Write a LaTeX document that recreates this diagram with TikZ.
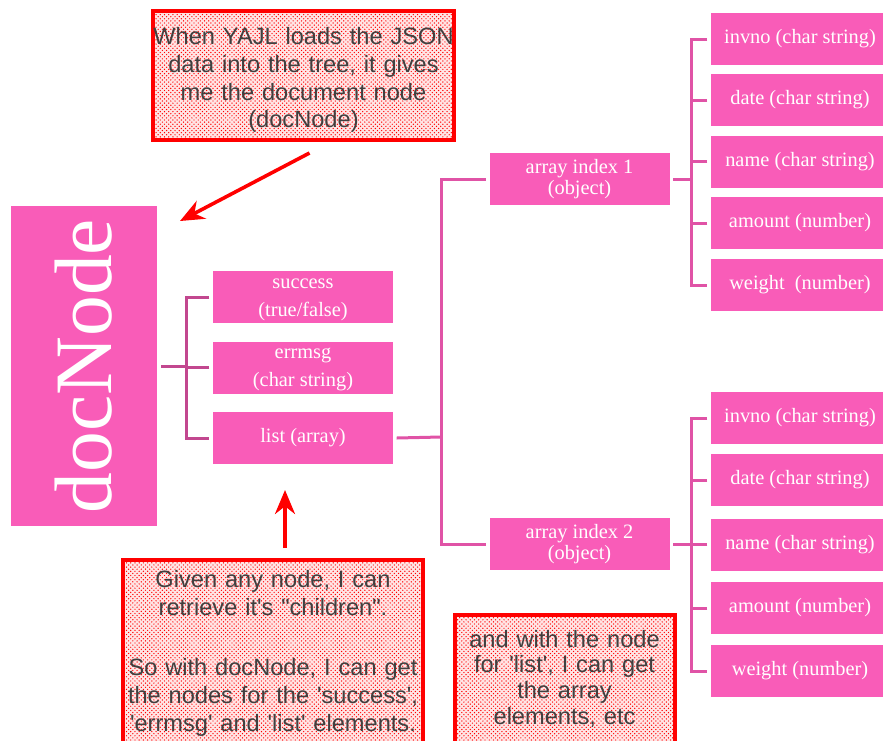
\documentclass[tikz,border=0pt]{standalone}
\usepackage{fontspec}
\setmainfont{Liberation Serif}
\newfontfamily\notafont{Liberation Sans}
\usepackage{graphicx}
\usetikzlibrary{arrows.meta,patterns}

\definecolor{rosa}{HTML}{F95CB8}
\definecolor{ramoscuro}{HTML}{C2478F}
\definecolor{ramochiaro}{HTML}{E053A6}
\definecolor{grigio}{HTML}{404040}

\begin{document}
\begin{tikzpicture}[x=0.25mm, y=-0.25mm, >=Stealth]
% Stili per i nodi dell'albero e per le note
\tikzset{scatola/.style={fill=rosa, text=white, font=\fontsize{14.5}{15}\selectfont, align=center, inner sep=0pt, outer sep=0.9mm, minimum width=45mm, minimum height=13mm}}
\tikzset{foglia/.style={scatola, minimum width=44.5mm}}
\tikzset{nota/.style={draw=red, line width=1mm, preaction={fill=red!10}, pattern=crosshatch dots, pattern color=red, text=grigio, font=\notafont\fontsize{16.8}{19.9}\selectfont, align=center, inner xsep=1mm}}
\tikzset{ramo/.style={line width=0.75mm}}
\tikzset{freccia/.style={-{Stealth[length=6mm,width=5mm]}, red, line width=0.9mm}}

% Area visibile (le note escono dal bordo inferiore)
\useasboundingbox (0,0) rectangle (883,740);
\clip (0,0) rectangle (883,740);

% Punti di giunzione dei rami
\coordinate (J1) at (186,366);
\coordinate (J2) at (441,437);
\coordinate (J3) at (691,179);
\coordinate (J4) at (691,544);

% Punte delle frecce
\coordinate (punta1) at (180,221);
\coordinate (punta2) at (285,490);

% --- NODO DOCUMENTO ---
\node[fill=rosa, text=white, minimum width=36.5mm, minimum height=80mm, inner sep=0pt, outer sep=1mm, font=\fontsize{58}{60}\selectfont] (doc) at (84,366) {\rotatebox{90}{docNode}};

% --- FIGLI DEL DOCUMENTO ---
\node[scatola] (success) at (303,297) {\strut success\\[5pt] (true/false)};
\node[scatola] (errmsg) at (303,367.5) {\strut errmsg\\[5pt] (char string)};
\node[scatola] (list) at (303,438) {list (array)};

\draw[ramo, ramoscuro] (doc.east) -- (J1);
\draw[ramo, ramoscuro] (success.west) -| (J1) |- (list.west);
\draw[ramo, ramoscuro] (errmsg.west) -- (errmsg.west -| J1);

% --- ELEMENTI DELL'ARRAY ---
\node[scatola] (arr1) at (579.5,179) {array index 1\\ (object)};
\node[scatola] (arr2) at (579.5,544) {array index 2\\ (object)};

\draw[ramo, ramochiaro] (list.east) -- (J2);
\draw[ramo, ramochiaro] (arr1.west) -| (J2) |- (arr2.west);

% --- CAMPI DEGLI OGGETTI ---
\foreach \i/\y/\testo in {1/39/{invno (char string)}, 2/100/{date (char string)}, 3/161.5/{name (char string)}, 4/223/{amount (number)}, 5/285/{weight~ (number)}}
    \node[foglia] (uno\i) at (800,\y) {\testo};
\foreach \i/\y/\testo in {1/418/{invno (char string)}, 2/480/{date (char string)}, 3/544.5/{name (char string)}, 4/608/{amount (number)}, 5/671/{weight (number)}}
    \node[foglia] (due\i) at (800,\y) {\testo};

\draw[ramo, ramochiaro] (arr1.east) -- (J3);
\draw[ramo, ramochiaro] (uno1.west) -| (J3) |- (uno5.west);
\draw[ramo, ramochiaro] (arr2.east) -- (J4);
\draw[ramo, ramochiaro] (due1.west) -| (J4) |- (due5.west);
\foreach \i in {2,3,4} {
    \draw[ramo, ramochiaro] (uno\i.west) -- (uno\i.west -| J3);
    \draw[ramo, ramochiaro] (due\i.west) -- (due\i.west -| J4);
}

% --- NOTE ---
\node[nota, inner xsep=0pt, text width=75.25mm, minimum width=75.25mm, minimum height=32.25mm, text depth=20mm] (nota1) at (303.5,75.5)
    {When YAJL loads the JSON\\ data into the tree, it gives\\ me the document node\\ (docNode)};
\node[nota, anchor=north, text width=73mm, minimum width=75mm, inner ysep=2.5mm, text depth=60mm] (nota2) at (273,558)
    {Given any node, I can\\ retrieve it's \textquotedbl children\textquotedbl.\\[8mm] So with docNode, I can get\\ the nodes for the \textquotesingle success\textquotesingle,\\ \textquotesingle errmsg\textquotesingle{} and \textquotesingle list\textquotesingle{} elements.};
\node[nota, anchor=north, text width=53mm, minimum width=54.75mm, inner ysep=3.75mm, text depth=60mm, font=\notafont\fontsize{16.8}{18.4}\selectfont] (nota3) at (564.5,613)
    {and with the node\\ for \textquotesingle list\textquotesingle, I can get\\ the array\\ elements, etc};

% Frecce dalle note
\draw[freccia] ([shift={(6,11)}]nota1.south) -- (punta1);
\draw[freccia] ([shift={(12,-10)}]nota2.north) -- (punta2);

\end{tikzpicture}
\end{document}
